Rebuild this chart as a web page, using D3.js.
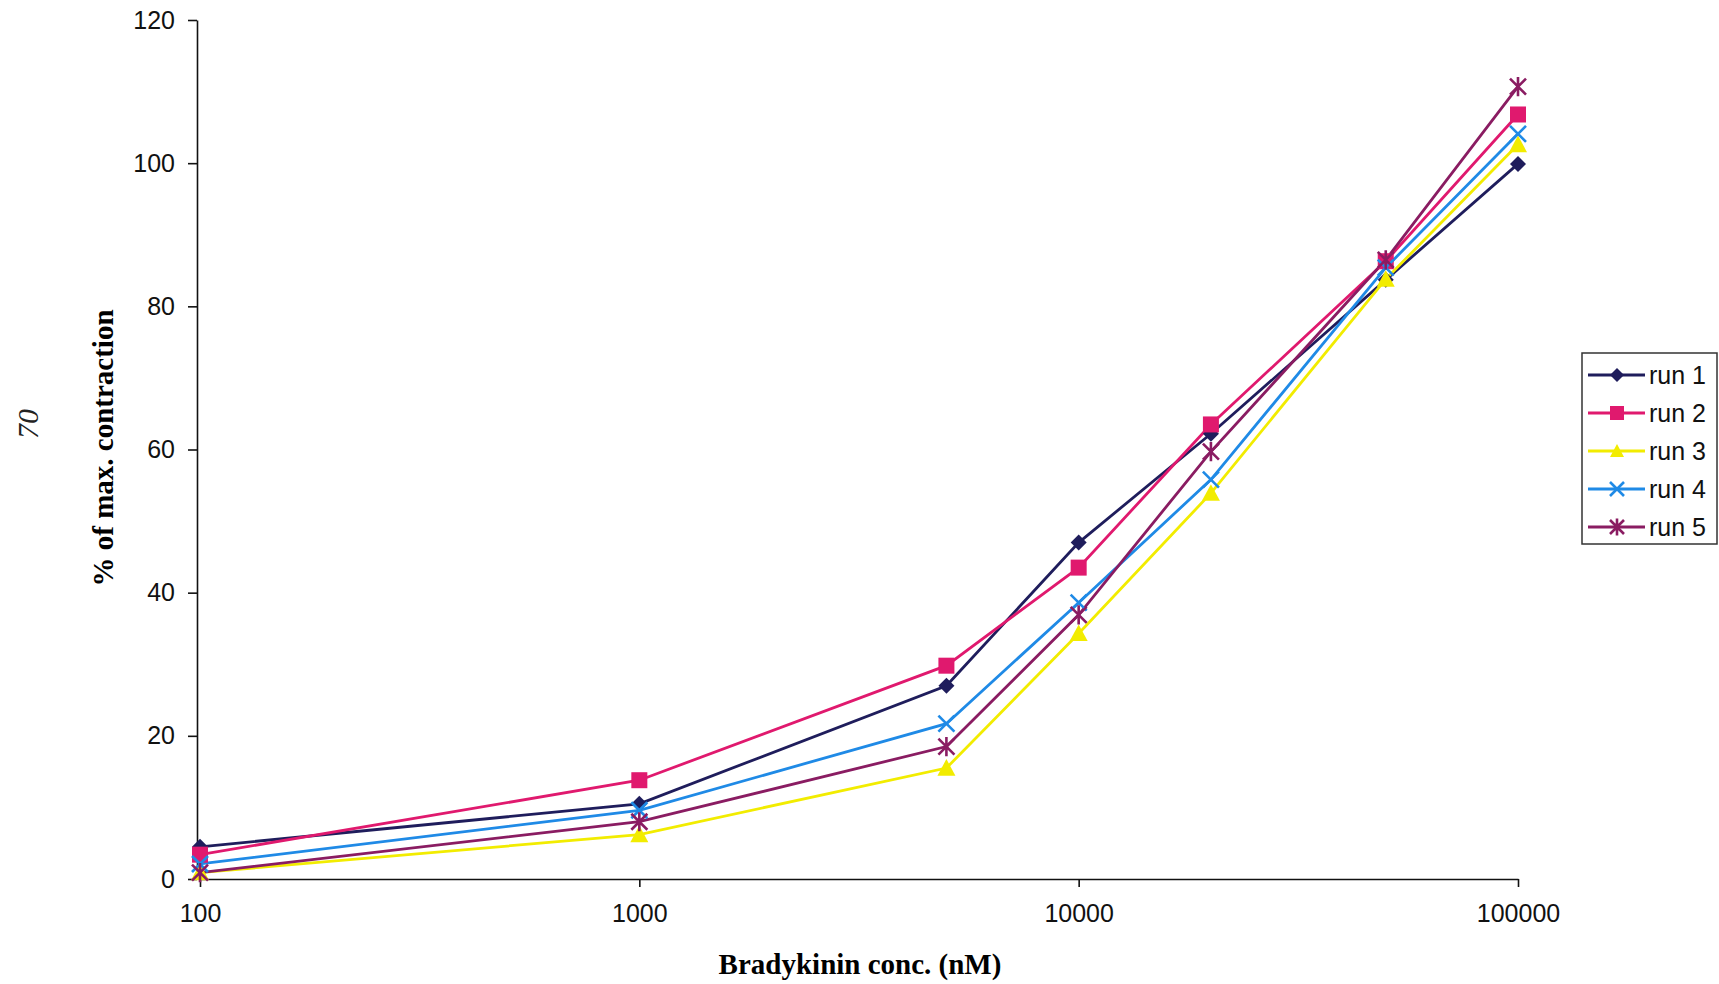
<!DOCTYPE html>
<html>
<head>
<meta charset="utf-8">
<script src="https://cdn.jsdelivr.net/npm/d3@7"></script>
<style>
    body { margin: 0; background: #fff; }
    svg { display: block; }
    .axis text { font-family: Arial, "Liberation Sans", sans-serif; font-size: 25px; fill: #111; }
    .axis path, .axis line { stroke: #111; stroke-width: 1.6; }
</style>
</head>
<body>
<div id="container"></div>
<script>
const conc = [100, 1000, 5000, 10000, 20000, 50000, 100000]
const run1 = [4.5, 10.5, 27.0, 47.0, 62.2, 83.7, 99.9]
const run2 = [3.4, 13.8, 29.8, 43.5, 63.5, 86.3, 106.8]
const run3 = [0.9, 6.2, 15.5, 34.3, 53.9, 83.8, 102.6]
const run4 = [2.1, 9.6, 21.7, 38.6, 55.8, 85.4, 104.1]
const run5 = [0.9, 8.0, 18.5, 36.9, 59.7, 86.5, 110.7]
const runNames = ['run 1', 'run 2', 'run 3', 'run 4', 'run 5']
const yTicks = [0, 20, 40, 60, 80, 100, 120]
const xTicks = [100, 1000, 10000, 100000]

const width = 1719
const height = 984

// colour + marker for each run (Excel-ish, as scanned)
const styles = [
    { color: '#1f1d5c', marker: 'diamond' },
    { color: '#e0196e', marker: 'square' },
    { color: '#f2ec00', marker: 'triangle' },
    { color: '#1f8ae6', marker: 'cross' },
    { color: '#8a1c62', marker: 'star' }
]

const series = [run1, run2, run3, run4, run5].map((vals, i) => ({
    name: runNames[i],
    style: styles[i],
    points: conc.map((c, j) => ({ x: c, y: vals[j] }))
}))

const svg = d3.select('#container')
    .append('svg')
    .attr('width', width)
    .attr('height', height)

const xScale = d3.scaleLog()
    .domain([100, 100000])
    .range([200, 1518])
const yScale = d3.scaleLinear()
    .domain([0, 120])
    .range([879, 20])

const xAxis = d3.axisBottom(xScale)
    .tickValues(xTicks)
    .tickFormat(d3.format('d'))
    .tickSize(8)
    .tickPadding(17)
    .tickSizeOuter(0)
svg.append('g')
    .attr('class', 'axis')
    .attr('transform', `translate(0, ${yScale(0)})`)
    .call(xAxis)

const yAxis = d3.axisLeft(yScale)
    .tickValues(yTicks)
    .tickSize(9)
    .tickPadding(13)
    .tickSizeOuter(0)
svg.append('g')
    .attr('class', 'axis')
    .attr('transform', `translate(${xScale(100) - 3}, 0)`)
    .call(yAxis)

// axis titles
svg.append('text')
    .text('Bradykinin conc. (nM)')
    .attr('x', 860)
    .attr('y', 974)
    .attr('text-anchor', 'middle')
    .attr('font-family', '"Liberation Serif", "Times New Roman", serif')
    .attr('font-weight', 'bold')
    .attr('font-size', 29)

svg.append('text')
    .text('% of max. contraction')
    .attr('transform', 'translate(113, 448) rotate(-90)')
    .attr('text-anchor', 'middle')
    .attr('font-family', '"Liberation Serif", "Times New Roman", serif')
    .attr('font-weight', 'bold')
    .attr('font-size', 29)

// page number in the margin
svg.append('text')
    .text('70')
    .attr('transform', 'translate(38, 424) rotate(-90)')
    .attr('text-anchor', 'middle')
    .attr('font-family', '"Liberation Serif", "Times New Roman", serif')
    .attr('font-style', 'italic')
    .attr('font-size', 30)
    .attr('fill', '#222')

const drawMarker = (g, type, color, s) => {
    if (type === 'diamond') {
        g.append('path').attr('d', `M0,${-s}L${s},0L0,${s}L${-s},0Z`).attr('fill', color)
    } else if (type === 'square') {
        g.append('rect').attr('x', -s).attr('y', -s).attr('width', 2 * s).attr('height', 2 * s).attr('fill', color)
    } else if (type === 'triangle') {
        g.append('path').attr('d', `M0,${-s}L${s},${s * 0.85}L${-s},${s * 0.85}Z`).attr('fill', color)
    } else if (type === 'cross') {
        g.append('path').attr('d', `M${-s},${-s}L${s},${s}M${-s},${s}L${s},${-s}`)
            .attr('stroke', color).attr('stroke-width', 2.6).attr('fill', 'none')
    } else {
        g.append('path').attr('d', `M${-s},${-s}L${s},${s}M${-s},${s}L${s},${-s}M0,${-s * 1.2}L0,${s * 1.2}`)
            .attr('stroke', color).attr('stroke-width', 2.6).attr('fill', 'none')
    }
}

const markerSize = { diamond: 8, square: 8, triangle: 9, cross: 8, star: 8 }

const line = d3.line()
    .x(d => xScale(d.x))
    .y(d => yScale(d.y))

const plot = svg.append('g')

series.forEach(s => {
    plot.append('path')
        .datum(s.points)
        .attr('d', line)
        .attr('fill', 'none')
        .attr('stroke', s.style.color)
        .attr('stroke-width', 2.8)
})

series.forEach(s => {
    s.points.forEach(p => {
        const g = plot.append('g')
            .attr('transform', `translate(${xScale(p.x)}, ${yScale(p.y)})`)
        drawMarker(g, s.style.marker, s.style.color, markerSize[s.style.marker])
    })
})

// legend
const legend = svg.append('g')
    .attr('id', 'legend')
    .attr('transform', 'translate(1582, 353)')

legend.append('rect')
    .attr('width', 135)
    .attr('height', 191)
    .attr('fill', '#fff')
    .attr('stroke', '#333')
    .attr('stroke-width', 1.5)

series.forEach((s, i) => {
    const row = legend.append('g')
        .attr('transform', `translate(0, ${22 + i * 38})`)
    row.append('line')
        .attr('x1', 6)
        .attr('x2', 63)
        .attr('stroke', s.style.color)
        .attr('stroke-width', 2.8)
    drawMarker(row.append('g').attr('transform', 'translate(35, 0)'), s.style.marker, s.style.color, 7)
    row.append('text')
        .text(s.name)
        .attr('x', 67)
        .attr('y', 9)
        .attr('font-family', 'Arial, "Liberation Sans", sans-serif')
        .attr('font-size', 25)
        .attr('fill', '#111')
})
</script>
</body>
</html>
